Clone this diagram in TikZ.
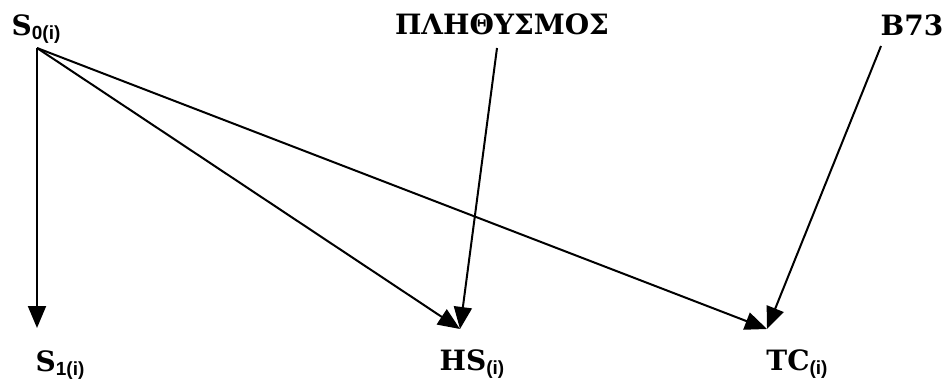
\documentclass[tikz,border=0pt]{standalone}
\usepackage{fontspec}
\setmainfont{DejaVu Serif}
\newfontfamily\subfont{Liberation Sans}
\usetikzlibrary{arrows.meta}
\tikzset{
  lbl/.style={inner sep=0pt, font=\fontsize{28}{32}\selectfont\bfseries},
  arr/.style={line width=2pt, -{Triangle[length=22pt,width=18pt]}}
}
\newcommand{\sbs}[1]{\raisebox{-4pt}{\subfont\bfseries\fontsize{19}{22}\selectfont #1}}
\begin{document}
\begin{tikzpicture}[x=1pt,y=-1pt]
\useasboundingbox (0,0) rectangle (949,382);
\node[lbl] (s0) at (36,29) {S\sbs{0(i)}};
\node[lbl] (pop) at (502,24) {ΠΛΗΘΥΣΜΟΣ};
\node[lbl] (b73) at (912,25) {B73};
\node[lbl] (s1) at (60,365) {S\sbs{1(i)}};
\node[lbl] (hs) at (472,364) {HS\sbs{(i)}};
\node[lbl] (tc) at (797,364) {TC\sbs{(i)}};
\coordinate (s0o) at (37,48);
\coordinate (popo) at (497,48);
\coordinate (b73o) at (881,46);
\coordinate (s1t) at (37,328);
\coordinate (hst) at (460,329);
\coordinate (tct) at (767,329);
\draw[arr] (s0o) -- (s1t);
\draw[arr] (s0o) -- (hst);
\draw[arr] (s0o) -- (tct);
\draw[arr] (popo) -- (hst);
\draw[arr] (b73o) -- (tct);
\end{tikzpicture}
\end{document}
